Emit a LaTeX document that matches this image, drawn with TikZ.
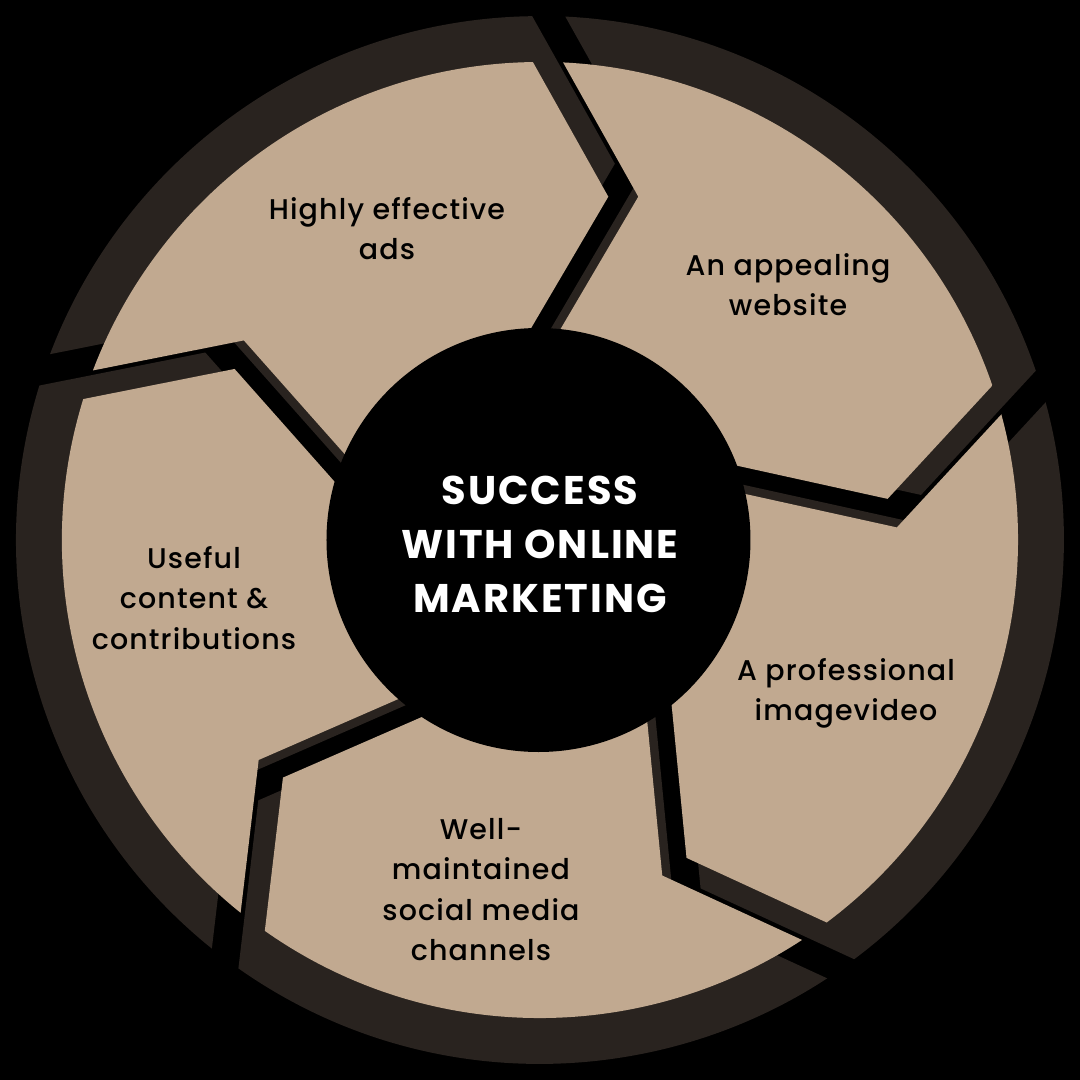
\documentclass[tikz,border=0pt]{standalone}
\usepackage{fontspec}
\setmainfont{Poppins}
\newfontfamily\labfont{Poppins Medium}[LetterSpace=4]
\newfontfamily\ctrfont{Poppins Bold}[LetterSpace=5]
\definecolor{tanc}{RGB}{193,169,144}
\definecolor{darkc}{RGB}{41,35,31}
\newcommand\drawpiece[3]{%
  \begin{scope}[rotate=#1, scale=#2]
    \clip (0,0) circle (478);
    \fill[#3] (-83.7,614.7) -- (68.3,343.3) -- (-57,130) -- (173.73:132.8)
      -- (146.02:357.1) -- (166.99:617) -- (126:900) -- cycle;
  \end{scope}}
\begin{document}
\begin{tikzpicture}[x=1pt,y=1pt,
  lab/.style={font=\labfont\fontsize{28.5}{40.5}\selectfont, align=center, text=black, anchor=base},
  ctr/.style={font=\ctrfont\fontsize{40}{54}\selectfont, align=center, text=white, anchor=base}]
\fill[black] (-540,-540) rectangle (540,540);
\useasboundingbox (-540,-540) rectangle (540,540);
\foreach \k in {0,...,4} { \drawpiece{-72*\k}{1.096}{darkc} }
\foreach \k in {0,...,4} { \drawpiece{-72*\k}{1}{tanc} }
\fill[black] (-1.5,0) circle (212);
\node[ctr] (title) at (0,-72) {SUCCESS\\WITH ONLINE\\MARKETING};
\node[lab] (ads) at (-153,280.2) {Highly effective\\ads};
\node[lab] (web) at (248,224.5) {An appealing\\website};
\node[lab] (useful) at (-346,-109) {Useful\\content \&\\contributions};
\node[lab] (video) at (306,-180.5) {A professional\\imagevideo};
\node[lab] (social) at (-59,-420.5) {Well-\\maintained\\social media\\channels};
\end{tikzpicture}
\end{document}
